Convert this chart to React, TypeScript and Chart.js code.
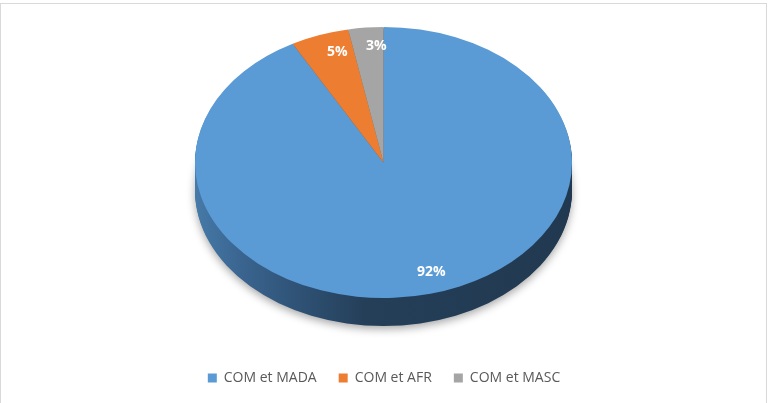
import React, { useEffect, useRef } from "react";
import { Chart, registerables } from "chart.js";

Chart.register(...registerables);

const categories = ["COM et MADA", "COM et AFR", "COM et MASC"];
const values = [92, 5, 3];
const valueLabels = ["92%", "5%", "3%"];

const topColors = ["#5B9BD5", "#ED7D31", "#A5A5A5"];
const sideColors = ["#2A4764", "#8E4A1D", "#636363"];

// ellipse geometry of the 3D pie (screen pixels)
const CX = 383.5;
const CY = 162.5;
const RX = 188.5;
const RY = 135.5;
const DEPTH = 28;
const LABEL_FRACTION = 0.85;
const LABEL_DX = 8;
const LABEL_DY = -2;

const pie3d = {
  id: "pie3d",
  beforeDraw(chart: any) {
    const ctx = chart.ctx;
    ctx.save();
    ctx.fillStyle = "#ffffff";
    ctx.fillRect(0, 0, chart.width, chart.height);
    ctx.strokeStyle = "#d9d9d9";
    ctx.lineWidth = 1;
    ctx.strokeRect(0.5, 3.5, 766, 402);
    ctx.restore();
  },
  beforeDatasetsDraw(chart: any) {
    const ctx = chart.ctx;
    const meta = chart.getDatasetMeta(0);
    const arcs = meta.data;
    const grad = ctx.createLinearGradient(CX - RX, 0, CX + RX, 0);
    grad.addColorStop(0, "#467AA8");
    grad.addColorStop(0.12, "#3A6590");
    grad.addColorStop(0.3, "#2D4F71");
    grad.addColorStop(0.45, "#253F59");
    grad.addColorStop(1, "#213950");
    ctx.save();
    for (let k = DEPTH; k >= 1; k--) {
      if (k === DEPTH) {
        ctx.shadowColor = "rgba(0,0,0,0.35)";
        ctx.shadowBlur = 8;
        ctx.shadowOffsetY = 3;
      } else {
        ctx.shadowColor = "rgba(0,0,0,0)";
        ctx.shadowBlur = 0;
        ctx.shadowOffsetY = 0;
      }
      arcs.forEach((arc: any, i: number) => {
        const p = arc.getProps(["startAngle", "endAngle"], true);
        ctx.beginPath();
        ctx.moveTo(CX, CY + k);
        ctx.ellipse(CX, CY + k, RX, RY, 0, p.startAngle, p.endAngle);
        ctx.closePath();
        ctx.fillStyle = i === 0 ? grad : sideColors[i];
        ctx.fill();
      });
    }
    ctx.restore();
    const a = arcs[0].getProps(["x", "y", "outerRadius"], true);
    ctx.save();
    ctx.translate(CX, CY);
    ctx.scale(RX / a.outerRadius, RY / a.outerRadius);
    ctx.translate(-a.x, -a.y);
  },
  afterDatasetsDraw(chart: any) {
    const ctx = chart.ctx;
    ctx.restore();
    const meta = chart.getDatasetMeta(0);
    ctx.save();
    ctx.fillStyle = "#ffffff";
    ctx.font = "bold 14px 'Open Sans', 'Liberation Sans', sans-serif";
    ctx.textAlign = "center";
    ctx.textBaseline = "middle";
    meta.data.forEach((arc: any, i: number) => {
      const p = arc.getProps(["startAngle", "endAngle"], true);
      const mid = (p.startAngle + p.endAngle) / 2;
      const x = CX + RX * LABEL_FRACTION * Math.cos(mid) + LABEL_DX;
      const y = CY + RY * LABEL_FRACTION * Math.sin(mid) + LABEL_DY;
      ctx.fillText(valueLabels[i], x, y);
    });
    ctx.restore();
  },
};

export default function App() {
  const ref = useRef<HTMLCanvasElement | null>(null);
  useEffect(() => {
    if (!ref.current) return;
    const chart = new Chart(ref.current, {
      type: "pie",
      data: {
        labels: categories,
        datasets: [
          {
            data: values,
            backgroundColor: topColors,
            borderWidth: 0,
            clip: false as any,
          },
        ],
      },
      options: {
        animation: false,
        responsive: false,
        events: [],
        layout: { padding: { top: 10, bottom: 8, left: 0, right: 0 } },
        plugins: {
          tooltip: { enabled: false },
          legend: {
            position: "bottom",
            labels: {
              boxWidth: 9,
              boxHeight: 9,
              padding: 22,
              color: "#595959",
              font: { size: 14, family: "'Open Sans', 'Liberation Sans', sans-serif" },
            },
          },
        },
      },
      plugins: [pie3d],
    });
    return () => chart.destroy();
  }, []);
  return (
    <div style={{ position: "fixed", left: 0, top: 0, width: 768, height: 403 }}>
      <canvas ref={ref} width={768} height={403} style={{ width: 768, height: 403, display: "block" }} />
    </div>
  );
}
